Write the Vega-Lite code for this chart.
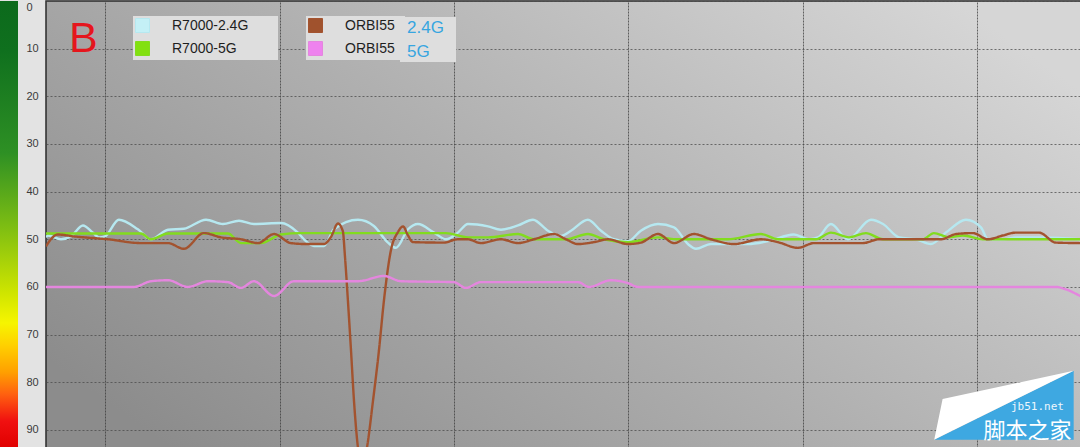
{
  "$schema": "https://vega.github.io/schema/vega-lite/v6.json",
  "padding": 0,
  "background": "#e3e3e3",
  "spacing": 0,
  "datasets": {
    "signal": [
      {"series": "R7000-2.4G", "band": "2.4G", "t": 6.59, "v": 49.6},
      {"series": "R7000-2.4G", "band": "2.4G", "t": 6.70, "v": 49.2},
      {"series": "R7000-2.4G", "band": "2.4G", "t": 7.45, "v": 50.0},
      {"series": "R7000-2.4G", "band": "2.4G", "t": 8.02, "v": 49.4},
      {"series": "R7000-2.4G", "band": "2.4G", "t": 8.71, "v": 47.1},
      {"series": "R7000-2.4G", "band": "2.4G", "t": 9.28, "v": 48.6},
      {"series": "R7000-2.4G", "band": "2.4G", "t": 9.63, "v": 49.6},
      {"series": "R7000-2.4G", "band": "2.4G", "t": 9.97, "v": 49.4},
      {"series": "R7000-2.4G", "band": "2.4G", "t": 10.77, "v": 45.9},
      {"series": "R7000-2.4G", "band": "2.4G", "t": 11.86, "v": 47.9},
      {"series": "R7000-2.4G", "band": "2.4G", "t": 12.61, "v": 50.0},
      {"series": "R7000-2.4G", "band": "2.4G", "t": 13.59, "v": 48.0},
      {"series": "R7000-2.4G", "band": "2.4G", "t": 14.50, "v": 47.8},
      {"series": "R7000-2.4G", "band": "2.4G", "t": 15.77, "v": 45.9},
      {"series": "R7000-2.4G", "band": "2.4G", "t": 16.74, "v": 46.8},
      {"series": "R7000-2.4G", "band": "2.4G", "t": 17.66, "v": 46.1},
      {"series": "R7000-2.4G", "band": "2.4G", "t": 18.52, "v": 46.8},
      {"series": "R7000-2.4G", "band": "2.4G", "t": 20.07, "v": 46.6},
      {"series": "R7000-2.4G", "band": "2.4G", "t": 21.04, "v": 48.6},
      {"series": "R7000-2.4G", "band": "2.4G", "t": 21.50, "v": 50.4},
      {"series": "R7000-2.4G", "band": "2.4G", "t": 21.96, "v": 51.4},
      {"series": "R7000-2.4G", "band": "2.4G", "t": 22.54, "v": 51.4},
      {"series": "R7000-2.4G", "band": "2.4G", "t": 23.11, "v": 47.9},
      {"series": "R7000-2.4G", "band": "2.4G", "t": 24.49, "v": 45.9},
      {"series": "R7000-2.4G", "band": "2.4G", "t": 25.40, "v": 47.2},
      {"series": "R7000-2.4G", "band": "2.4G", "t": 26.21, "v": 50.7},
      {"series": "R7000-2.4G", "band": "2.4G", "t": 26.67, "v": 51.8},
      {"series": "R7000-2.4G", "band": "2.4G", "t": 27.36, "v": 47.9},
      {"series": "R7000-2.4G", "band": "2.4G", "t": 27.93, "v": 46.8},
      {"series": "R7000-2.4G", "band": "2.4G", "t": 28.85, "v": 48.6},
      {"series": "R7000-2.4G", "band": "2.4G", "t": 29.54, "v": 50.0},
      {"series": "R7000-2.4G", "band": "2.4G", "t": 30.22, "v": 48.6},
      {"series": "R7000-2.4G", "band": "2.4G", "t": 30.80, "v": 46.8},
      {"series": "R7000-2.4G", "band": "2.4G", "t": 31.95, "v": 47.3},
      {"series": "R7000-2.4G", "band": "2.4G", "t": 32.69, "v": 48.0},
      {"series": "R7000-2.4G", "band": "2.4G", "t": 33.67, "v": 47.1},
      {"series": "R7000-2.4G", "band": "2.4G", "t": 34.53, "v": 45.9},
      {"series": "R7000-2.4G", "band": "2.4G", "t": 35.39, "v": 48.2},
      {"series": "R7000-2.4G", "band": "2.4G", "t": 36.13, "v": 49.3},
      {"series": "R7000-2.4G", "band": "2.4G", "t": 36.71, "v": 48.2},
      {"series": "R7000-2.4G", "band": "2.4G", "t": 37.68, "v": 45.9},
      {"series": "R7000-2.4G", "band": "2.4G", "t": 38.43, "v": 48.2},
      {"series": "R7000-2.4G", "band": "2.4G", "t": 39.17, "v": 50.0},
      {"series": "R7000-2.4G", "band": "2.4G", "t": 39.98, "v": 50.4},
      {"series": "R7000-2.4G", "band": "2.4G", "t": 40.72, "v": 48.2},
      {"series": "R7000-2.4G", "band": "2.4G", "t": 41.70, "v": 46.8},
      {"series": "R7000-2.4G", "band": "2.4G", "t": 42.62, "v": 47.5},
      {"series": "R7000-2.4G", "band": "2.4G", "t": 43.42, "v": 51.0},
      {"series": "R7000-2.4G", "band": "2.4G", "t": 43.88, "v": 52.0},
      {"series": "R7000-2.4G", "band": "2.4G", "t": 44.74, "v": 51.0},
      {"series": "R7000-2.4G", "band": "2.4G", "t": 46.86, "v": 51.0},
      {"series": "R7000-2.4G", "band": "2.4G", "t": 48.01, "v": 50.4},
      {"series": "R7000-2.4G", "band": "2.4G", "t": 49.50, "v": 49.0},
      {"series": "R7000-2.4G", "band": "2.4G", "t": 50.36, "v": 50.0},
      {"series": "R7000-2.4G", "band": "2.4G", "t": 50.88, "v": 49.6},
      {"series": "R7000-2.4G", "band": "2.4G", "t": 51.62, "v": 46.8},
      {"series": "R7000-2.4G", "band": "2.4G", "t": 52.60, "v": 50.0},
      {"series": "R7000-2.4G", "band": "2.4G", "t": 53.92, "v": 45.9},
      {"series": "R7000-2.4G", "band": "2.4G", "t": 54.61, "v": 46.8},
      {"series": "R7000-2.4G", "band": "2.4G", "t": 55.53, "v": 49.6},
      {"series": "R7000-2.4G", "band": "2.4G", "t": 56.50, "v": 50.0},
      {"series": "R7000-2.4G", "band": "2.4G", "t": 57.36, "v": 51.0},
      {"series": "R7000-2.4G", "band": "2.4G", "t": 58.22, "v": 48.6},
      {"series": "R7000-2.4G", "band": "2.4G", "t": 59.37, "v": 45.9},
      {"series": "R7000-2.4G", "band": "2.4G", "t": 60.23, "v": 47.5},
      {"series": "R7000-2.4G", "band": "2.4G", "t": 60.63, "v": 50.0},
      {"series": "R7000-2.4G", "band": "2.4G", "t": 61.49, "v": 50.0},
      {"series": "R7000-2.4G", "band": "2.4G", "t": 62.24, "v": 49.6},
      {"series": "R7000-2.4G", "band": "2.4G", "t": 63.79, "v": 49.6},
      {"series": "R7000-2.4G", "band": "2.4G", "t": 65.97, "v": 50.0},

      {"series": "R7000-5G", "band": "5G", "t": 6.59, "v": 48.8},
      {"series": "R7000-5G", "band": "5G", "t": 12.04, "v": 48.8},
      {"series": "R7000-5G", "band": "5G", "t": 12.61, "v": 50.0},
      {"series": "R7000-5G", "band": "5G", "t": 13.59, "v": 48.8},
      {"series": "R7000-5G", "band": "5G", "t": 17.03, "v": 48.8},
      {"series": "R7000-5G", "band": "5G", "t": 17.77, "v": 50.8},
      {"series": "R7000-5G", "band": "5G", "t": 18.92, "v": 50.8},
      {"series": "R7000-5G", "band": "5G", "t": 20.07, "v": 49.0},
      {"series": "R7000-5G", "band": "5G", "t": 21.22, "v": 48.7},
      {"series": "R7000-5G", "band": "5G", "t": 29.54, "v": 48.7},
      {"series": "R7000-5G", "band": "5G", "t": 30.80, "v": 49.6},
      {"series": "R7000-5G", "band": "5G", "t": 31.95, "v": 49.6},
      {"series": "R7000-5G", "band": "5G", "t": 33.67, "v": 48.9},
      {"series": "R7000-5G", "band": "5G", "t": 34.58, "v": 50.0},
      {"series": "R7000-5G", "band": "5G", "t": 36.42, "v": 50.0},
      {"series": "R7000-5G", "band": "5G", "t": 37.68, "v": 48.9},
      {"series": "R7000-5G", "band": "5G", "t": 38.60, "v": 50.0},
      {"series": "R7000-5G", "band": "5G", "t": 39.98, "v": 50.6},
      {"series": "R7000-5G", "band": "5G", "t": 41.70, "v": 49.6},
      {"series": "R7000-5G", "band": "5G", "t": 42.85, "v": 50.0},
      {"series": "R7000-5G", "band": "5G", "t": 45.71, "v": 50.0},
      {"series": "R7000-5G", "band": "5G", "t": 47.61, "v": 48.9},
      {"series": "R7000-5G", "band": "5G", "t": 48.58, "v": 50.0},
      {"series": "R7000-5G", "band": "5G", "t": 50.76, "v": 50.0},
      {"series": "R7000-5G", "band": "5G", "t": 51.62, "v": 48.6},
      {"series": "R7000-5G", "band": "5G", "t": 52.66, "v": 49.6},
      {"series": "R7000-5G", "band": "5G", "t": 53.63, "v": 48.7},
      {"series": "R7000-5G", "band": "5G", "t": 54.61, "v": 50.0},
      {"series": "R7000-5G", "band": "5G", "t": 56.90, "v": 50.0},
      {"series": "R7000-5G", "band": "5G", "t": 57.53, "v": 48.7},
      {"series": "R7000-5G", "band": "5G", "t": 58.39, "v": 49.6},
      {"series": "R7000-5G", "band": "5G", "t": 59.20, "v": 49.2},
      {"series": "R7000-5G", "band": "5G", "t": 60.34, "v": 50.0},
      {"series": "R7000-5G", "band": "5G", "t": 65.97, "v": 50.0},

      {"series": "ORBI55 2.4G", "band": "2.4G", "t": 6.59, "v": 51.5},
      {"series": "ORBI55 2.4G", "band": "2.4G", "t": 6.87, "v": 50.0},
      {"series": "ORBI55 2.4G", "band": "2.4G", "t": 7.27, "v": 49.0},
      {"series": "ORBI55 2.4G", "band": "2.4G", "t": 8.19, "v": 49.4},
      {"series": "ORBI55 2.4G", "band": "2.4G", "t": 10.14, "v": 50.0},
      {"series": "ORBI55 2.4G", "band": "2.4G", "t": 12.04, "v": 50.8},
      {"series": "ORBI55 2.4G", "band": "2.4G", "t": 13.59, "v": 50.8},
      {"series": "ORBI55 2.4G", "band": "2.4G", "t": 14.50, "v": 52.0},
      {"series": "ORBI55 2.4G", "band": "2.4G", "t": 15.65, "v": 48.7},
      {"series": "ORBI55 2.4G", "band": "2.4G", "t": 16.63, "v": 49.6},
      {"series": "ORBI55 2.4G", "band": "2.4G", "t": 17.77, "v": 50.0},
      {"series": "ORBI55 2.4G", "band": "2.4G", "t": 18.75, "v": 50.8},
      {"series": "ORBI55 2.4G", "band": "2.4G", "t": 19.67, "v": 48.9},
      {"series": "ORBI55 2.4G", "band": "2.4G", "t": 20.64, "v": 50.8},
      {"series": "ORBI55 2.4G", "band": "2.4G", "t": 21.50, "v": 51.0},
      {"series": "ORBI55 2.4G", "band": "2.4G", "t": 22.54, "v": 51.0},
      {"series": "ORBI55 2.4G", "band": "2.4G", "t": 22.94, "v": 49.5},
      {"series": "ORBI55 2.4G", "band": "2.4G", "t": 23.34, "v": 46.7},
      {"series": "ORBI55 2.4G", "band": "2.4G", "t": 23.62, "v": 48.3},
      {"series": "ORBI55 2.4G", "band": "2.4G", "t": 23.74, "v": 53.5},
      {"series": "ORBI55 2.4G", "band": "2.4G", "t": 23.91, "v": 62.8},
      {"series": "ORBI55 2.4G", "band": "2.4G", "t": 24.09, "v": 73.4},
      {"series": "ORBI55 2.4G", "band": "2.4G", "t": 24.26, "v": 83.9},
      {"series": "ORBI55 2.4G", "band": "2.4G", "t": 24.49, "v": 93.8},
      {"series": "ORBI55 2.4G", "band": "2.4G", "t": 24.72, "v": 98.0},
      {"series": "ORBI55 2.4G", "band": "2.4G", "t": 25.00, "v": 93.8},
      {"series": "ORBI55 2.4G", "band": "2.4G", "t": 25.35, "v": 83.9},
      {"series": "ORBI55 2.4G", "band": "2.4G", "t": 25.69, "v": 73.4},
      {"series": "ORBI55 2.4G", "band": "2.4G", "t": 25.98, "v": 62.8},
      {"series": "ORBI55 2.4G", "band": "2.4G", "t": 26.38, "v": 52.3},
      {"series": "ORBI55 2.4G", "band": "2.4G", "t": 26.78, "v": 48.5},
      {"series": "ORBI55 2.4G", "band": "2.4G", "t": 27.07, "v": 47.3},
      {"series": "ORBI55 2.4G", "band": "2.4G", "t": 27.36, "v": 49.2},
      {"series": "ORBI55 2.4G", "band": "2.4G", "t": 27.64, "v": 50.6},
      {"series": "ORBI55 2.4G", "band": "2.4G", "t": 29.42, "v": 50.7},
      {"series": "ORBI55 2.4G", "band": "2.4G", "t": 30.22, "v": 50.0},
      {"series": "ORBI55 2.4G", "band": "2.4G", "t": 30.80, "v": 50.0},
      {"series": "ORBI55 2.4G", "band": "2.4G", "t": 31.54, "v": 50.8},
      {"series": "ORBI55 2.4G", "band": "2.4G", "t": 32.69, "v": 50.0},
      {"series": "ORBI55 2.4G", "band": "2.4G", "t": 33.67, "v": 50.8},
      {"series": "ORBI55 2.4G", "band": "2.4G", "t": 34.58, "v": 50.0},
      {"series": "ORBI55 2.4G", "band": "2.4G", "t": 35.73, "v": 48.9},
      {"series": "ORBI55 2.4G", "band": "2.4G", "t": 36.42, "v": 50.0},
      {"series": "ORBI55 2.4G", "band": "2.4G", "t": 37.11, "v": 51.0},
      {"series": "ORBI55 2.4G", "band": "2.4G", "t": 38.03, "v": 50.6},
      {"series": "ORBI55 2.4G", "band": "2.4G", "t": 38.83, "v": 50.0},
      {"series": "ORBI55 2.4G", "band": "2.4G", "t": 39.98, "v": 51.0},
      {"series": "ORBI55 2.4G", "band": "2.4G", "t": 40.72, "v": 50.7},
      {"series": "ORBI55 2.4G", "band": "2.4G", "t": 41.70, "v": 48.9},
      {"series": "ORBI55 2.4G", "band": "2.4G", "t": 42.62, "v": 50.8},
      {"series": "ORBI55 2.4G", "band": "2.4G", "t": 43.76, "v": 48.9},
      {"series": "ORBI55 2.4G", "band": "2.4G", "t": 44.74, "v": 50.0},
      {"series": "ORBI55 2.4G", "band": "2.4G", "t": 46.06, "v": 51.0},
      {"series": "ORBI55 2.4G", "band": "2.4G", "t": 47.61, "v": 50.0},
      {"series": "ORBI55 2.4G", "band": "2.4G", "t": 48.58, "v": 50.6},
      {"series": "ORBI55 2.4G", "band": "2.4G", "t": 49.73, "v": 51.8},
      {"series": "ORBI55 2.4G", "band": "2.4G", "t": 50.65, "v": 50.8},
      {"series": "ORBI55 2.4G", "band": "2.4G", "t": 53.46, "v": 50.8},
      {"series": "ORBI55 2.4G", "band": "2.4G", "t": 54.38, "v": 50.0},
      {"series": "ORBI55 2.4G", "band": "2.4G", "t": 57.93, "v": 50.0},
      {"series": "ORBI55 2.4G", "band": "2.4G", "t": 58.80, "v": 48.9},
      {"series": "ORBI55 2.4G", "band": "2.4G", "t": 59.77, "v": 48.7},
      {"series": "ORBI55 2.4G", "band": "2.4G", "t": 60.63, "v": 50.0},
      {"series": "ORBI55 2.4G", "band": "2.4G", "t": 61.49, "v": 49.2},
      {"series": "ORBI55 2.4G", "band": "2.4G", "t": 62.24, "v": 48.6},
      {"series": "ORBI55 2.4G", "band": "2.4G", "t": 63.56, "v": 48.6},
      {"series": "ORBI55 2.4G", "band": "2.4G", "t": 64.53, "v": 50.7},
      {"series": "ORBI55 2.4G", "band": "2.4G", "t": 65.97, "v": 50.8},

      {"series": "ORBI55 5G", "band": "5G", "t": 6.59, "v": 60.0},
      {"series": "ORBI55 5G", "band": "5G", "t": 11.64, "v": 60.0},
      {"series": "ORBI55 5G", "band": "5G", "t": 12.61, "v": 58.8},
      {"series": "ORBI55 5G", "band": "5G", "t": 13.59, "v": 58.6},
      {"series": "ORBI55 5G", "band": "5G", "t": 14.73, "v": 60.0},
      {"series": "ORBI55 5G", "band": "5G", "t": 15.88, "v": 58.8},
      {"series": "ORBI55 5G", "band": "5G", "t": 17.03, "v": 59.0},
      {"series": "ORBI55 5G", "band": "5G", "t": 17.77, "v": 60.2},
      {"series": "ORBI55 5G", "band": "5G", "t": 18.52, "v": 58.8},
      {"series": "ORBI55 5G", "band": "5G", "t": 19.67, "v": 61.9},
      {"series": "ORBI55 5G", "band": "5G", "t": 20.81, "v": 58.8},
      {"series": "ORBI55 5G", "band": "5G", "t": 24.49, "v": 58.8},
      {"series": "ORBI55 5G", "band": "5G", "t": 25.98, "v": 57.7},
      {"series": "ORBI55 5G", "band": "5G", "t": 26.95, "v": 58.8},
      {"series": "ORBI55 5G", "band": "5G", "t": 29.99, "v": 59.0},
      {"series": "ORBI55 5G", "band": "5G", "t": 30.68, "v": 60.2},
      {"series": "ORBI55 5G", "band": "5G", "t": 31.54, "v": 59.0},
      {"series": "ORBI55 5G", "band": "5G", "t": 37.11, "v": 59.0},
      {"series": "ORBI55 5G", "band": "5G", "t": 37.74, "v": 60.0},
      {"series": "ORBI55 5G", "band": "5G", "t": 39.00, "v": 58.6},
      {"series": "ORBI55 5G", "band": "5G", "t": 39.98, "v": 59.2},
      {"series": "ORBI55 5G", "band": "5G", "t": 40.55, "v": 60.0},
      {"series": "ORBI55 5G", "band": "5G", "t": 64.53, "v": 60.0},
      {"series": "ORBI55 5G", "band": "5G", "t": 64.93, "v": 60.3},
      {"series": "ORBI55 5G", "band": "5G", "t": 65.97, "v": 62.0}
    ],
    "badge_blue": [
      {"t": 57.55, "v": 92.08, "v2": 92.08},
      {"t": 65.55, "v": 77.58, "v2": 92.08}
    ],
    "badge_white": [
      {"t": 57.55, "v": 92.08, "v2": 92.08},
      {"t": 58.03, "v": 83.53, "v2": 91.2},
      {"t": 65.55, "v": 77.58, "v2": 77.58}
    ]
  },
  "hconcat": [
    {
      "width": 18,
      "height": 447,
      "view": {"stroke": null, "fill": null},
      "data": {"values": [{}]},
      "mark": {
        "type": "rect",
        "fill": {
          "gradient": "linear",
          "x1": 0, "y1": 0, "x2": 0, "y2": 1,
          "stops": [
            {"offset": 0, "color": "#0c6a1c"},
            {"offset": 0.11, "color": "#0f701e"},
            {"offset": 0.34, "color": "#2e9024"},
            {"offset": 0.51, "color": "#80bf12"},
            {"offset": 0.65, "color": "#cde400"},
            {"offset": 0.72, "color": "#f6f500"},
            {"offset": 0.77, "color": "#ffd000"},
            {"offset": 0.83, "color": "#ffa000"},
            {"offset": 0.88, "color": "#ff6010"},
            {"offset": 0.94, "color": "#f01010"},
            {"offset": 1, "color": "#e00000"}
          ]
        }
      },
      "encoding": {}
    },
    {
      "width": 1035,
      "height": 447,
      "view": {
        "stroke": "#2b2b2b",
        "strokeWidth": 1.5,
        "fill": {
          "gradient": "linear",
          "x1": 0, "y1": 0.8, "x2": 1, "y2": 0.2,
          "stops": [
            {"offset": 0, "color": "#8c8c8c"},
            {"offset": 0.5, "color": "#b0b0b0"},
            {"offset": 1, "color": "#d6d6d6"}
          ]
        }
      },
      "layer": [
        {
          "data": {"name": "signal"},
          "transform": [{"filter": {"field": "series", "oneOf": ["R7000-2.4G", "R7000-5G"]}}],
          "mark": {"type": "line", "interpolate": "monotone", "strokeWidth": 2.4, "clip": true},
          "encoding": {
            "x": {
              "field": "t", "type": "quantitative",
              "scale": {"domain": [6.59, 65.97], "nice": false, "zero": false},
              "axis": {
                "values": [10, 20, 30, 40, 50, 60],
                "labels": false, "ticks": false, "domain": false, "title": null,
                "grid": true, "gridColor": "#3a3a3a", "gridDash": [2, 1], "gridOpacity": 0.75
              }
            },
            "y": {
              "field": "v", "type": "quantitative",
              "scale": {"domain": [0, 93.8], "reverse": true, "nice": false, "zero": false},
              "axis": {
                "values": [0, 5, 10, 15, 20, 25, 30, 35, 40, 45, 50, 55, 60, 65, 70, 75, 80, 85, 90],
                "labelExpr": "datum.value % 10 === 0 ? datum.label : ''",
                "ticks": false, "domain": false, "title": null,
                "grid": true, "gridColor": "#4a4a4a", "gridDash": [2, 2], "gridOpacity": 0.75,
                "labelFlush": true, "labelAlign": "left", "labelPadding": 20,
                "labelFont": "Liberation Sans", "labelFontSize": 11, "labelColor": "#3a3a3a",
                "minExtent": 27, "maxExtent": 27
              }
            },
            "stroke": {
              "field": "series", "type": "nominal",
              "scale": {"domain": ["R7000-2.4G", "R7000-5G"], "range": ["#b6e8f0", "#82dc1e"]},
              "legend": null
            },
            "fill": {
              "field": "series", "type": "nominal",
              "scale": {"domain": ["R7000-2.4G", "R7000-5G"], "range": ["#c4f0f6", "#82e010"]},
              "legend": {
                "title": null, "orient": "none", "legendX": 87, "legendY": 15,
                "symbolType": "square", "symbolSize": 196, "symbolStrokeWidth": 1, "symbolStrokeColor": "#8a8a8a",
                "labelFont": "Liberation Sans", "labelFontSize": 14, "labelColor": "#1e1e1e",
                "labelOffset": 22, "padding": 2, "rowPadding": 4,
                "fillColor": "#dedede",
                "labelExpr": "datum.label + '\u00a0\u00a0\u00a0\u00a0\u00a0\u00a0\u00a0\u200b'"
              }
            },
            "fillOpacity": {"value": 0}
          }
        },
        {
          "data": {"name": "signal"},
          "transform": [{"filter": {"field": "series", "oneOf": ["ORBI55 2.4G", "ORBI55 5G"]}}],
          "mark": {"type": "line", "interpolate": "monotone", "strokeWidth": 2.4, "clip": true},
          "encoding": {
            "x": {"field": "t", "type": "quantitative"},
            "y": {"field": "v", "type": "quantitative"},
            "stroke": {
              "field": "series", "type": "nominal",
              "scale": {"domain": ["ORBI55 2.4G", "ORBI55 5G"], "range": ["#a3532f", "#e486de"]},
              "legend": null
            },
            "fill": {
              "field": "series", "type": "nominal",
              "scale": {"domain": ["ORBI55 2.4G", "ORBI55 5G"], "range": ["#a0522d", "#ee82ee"]},
              "legend": {
                "title": null, "orient": "none", "legendX": 260, "legendY": 15,
                "symbolType": "square", "symbolSize": 196, "symbolStrokeWidth": 1, "symbolStrokeColor": "#8a8a8a",
                "labelFont": "Liberation Sans", "labelFontSize": 14, "labelColor": "#1e1e1e",
                "labelOffset": 22, "padding": 2, "rowPadding": 4,
                "fillColor": "#dedede",
                "labelExpr": "'ORBI55\u00a0\u00a0\u200b'"
              }
            },
            "fillOpacity": {"value": 0},
            "strokeDash": {
              "field": "band", "type": "nominal",
              "scale": {"domain": ["2.4G", "5G"], "range": [[1, 0], [1, 0]]},
              "legend": {
                "title": null, "orient": "none", "legendX": 400, "legendY": 16,
                "symbolType": "circle", "symbolSize": 1, "symbolStrokeWidth": 0, "symbolOpacity": 0,
                "labelOffset": -12, "padding": 2, "rowPadding": 6, "zindex": 1,
                "fillColor": "#dedede",
                "labelFont": "Liberation Sans", "labelFontSize": 17, "labelColor": "#36a5e0",
                "labelExpr": "datum.label + '\u00a0\u00a0\u200b'"
              }
            }
          }
        },
        {
          "data": {"name": "badge_blue"},
          "mark": {"type": "area", "color": "#3ea8e1", "clip": true},
          "encoding": {
            "x": {"field": "t", "type": "quantitative"},
            "y": {"field": "v", "type": "quantitative"},
            "y2": {"field": "v2"}
          }
        },
        {
          "data": {"name": "badge_white"},
          "mark": {"type": "area", "color": "#ffffff", "clip": true},
          "encoding": {
            "x": {"field": "t", "type": "quantitative"},
            "y": {"field": "v", "type": "quantitative"},
            "y2": {"field": "v2"}
          }
        },
        {
          "data": {"values": [{}]},
          "mark": {"type": "text", "text": "jb51.net", "font": "DejaVu Sans Mono", "fontSize": 11, "color": "#eef7fd", "align": "right", "baseline": "alphabetic"},
          "encoding": {
            "x": {"datum": 64.99, "type": "quantitative"},
            "y": {"datum": 85.75, "type": "quantitative"}
          }
        },
        {
          "data": {"values": [{}]},
          "mark": {"type": "text", "text": "脚本之家", "font": "Noto Sans CJK SC", "fontSize": 22, "color": "#ffffff", "align": "right", "baseline": "alphabetic"},
          "encoding": {
            "x": {"datum": 65.43, "type": "quantitative"},
            "y": {"datum": 91.7, "type": "quantitative"}
          }
        },
        {
          "data": {"values": [{}]},
          "mark": {"type": "text", "text": "B", "font": "Liberation Sans", "fontSize": 43, "color": "#e5161d", "align": "left", "baseline": "alphabetic"},
          "encoding": {
            "x": {"datum": 7.91, "type": "quantitative"},
            "y": {"datum": 10.71, "type": "quantitative"}
          }
        }
      ],
      "resolve": {"scale": {"fill": "independent", "stroke": "independent"}}
    }
  ]
}
